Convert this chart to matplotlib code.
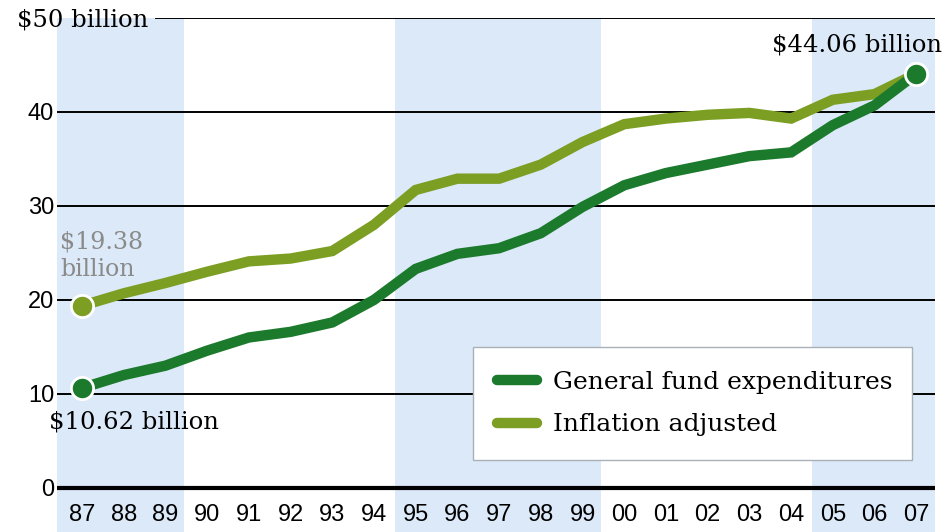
import numpy as np
from matplotlib import pyplot as plt

# fiscal years 1987-2007, values in $ billion
years = ["87", "88", "89", "90", "91", "92", "93", "94", "95", "96", "97",
         "98", "99", "00", "01", "02", "03", "04", "05", "06", "07"]
general_fund = [10.62, 12.0, 13.0, 14.6, 16.0, 16.6, 17.6, 20.0, 23.3, 24.9, 25.5,
                27.1, 29.9, 32.2, 33.5, 34.4, 35.3, 35.7, 38.6, 40.7, 44.06]
inflation_adj = [19.38, 20.7, 21.8, 23.0, 24.1, 24.4, 25.2, 28.0, 31.7, 32.9, 32.9,
                 34.4, 36.8, 38.7, 39.3, 39.7, 39.9, 39.3, 41.3, 41.9, 44.06]
y_ticks = [0, 10, 20, 30, 40]
# shaded year groups (first index, last index)
bands = [(0, 2), (8, 12), (18, 20)]

dark = "#1b7a2c"
light = "#7b9e23"
band_col = "#dce9f8"
serif = "DejaVu Serif"
sans = "Liberation Sans"

fig = plt.figure(figsize=(9.47, 5.32), dpi=100)
ax = fig.add_axes([57 / 947, 0, 878 / 947, 514 / 532])

x = np.arange(len(years))
ax.set_xlim(-0.6, 20.45)
ax.set_ylim(-4.7, 50)

for a, b in bands:
    left = -0.6 if a == 0 else a - 0.5
    ax.axvspan(left, b + 0.45, color=band_col, lw=0, zorder=0)

for v in y_ticks[1:]:
    ax.axhline(v, color="black", lw=1.4, zorder=1)
ax.hlines(50, 1.75, 20.45, color="black", lw=1.4, zorder=1)
ax.axhline(0, color="black", lw=3, zorder=1)

ax.plot(x, inflation_adj, color=light, lw=7.5, solid_joinstyle="miter", zorder=3,
        label="Inflation adjusted")
ax.plot(x, general_fund, color=dark, lw=7.5, solid_joinstyle="miter", zorder=4,
        label="General fund expenditures")
ax.plot(x[0], inflation_adj[0], "o", ms=16, mfc=light, mec="white", mew=2, zorder=5)
ax.plot(x[[0, -1]], [general_fund[0], general_fund[-1]], "o", ms=16, mfc=dark,
        mec="white", mew=2, zorder=6)

for s in ax.spines.values():
    s.set_visible(False)
ax.set_xticks([])
ax.set_yticks(y_ticks)
ax.set_yticklabels([str(v) for v in y_ticks], fontsize=17, family=sans)
ax.tick_params(axis="y", length=0, pad=2)

for i, lab in enumerate(years):
    ax.text(i, -2.9, lab, ha="center", va="center", fontsize=17, family=sans)

fig.text(17 / 947, 1 - 20 / 532, "$50 billion", ha="left", va="center",
         fontsize=17.5, family=serif)

ax.text(-0.53, 24.7, "$19.38\nbillion", ha="left", va="center", fontsize=17,
        family=serif, color="#8a8a8a", linespacing=1.2)
ax.text(-0.78, 7.0, "$10.62 billion", ha="left", va="center", fontsize=17.5,
        family=serif, clip_on=False)
ax.text(20.62, 47.1, "$44.06 billion", ha="right", va="center", fontsize=17.5,
        family=serif, clip_on=False)

h, l = ax.get_legend_handles_labels()
leg = ax.legend(h[::-1], l[::-1], loc="center", bbox_to_anchor=(0.474, 0.134, 0.5, 0.232),
                mode="expand", borderaxespad=0, fancybox=False, framealpha=1,
                edgecolor="#a9b0b8", prop={"family": serif, "size": 18},
                handlelength=1.6, borderpad=0.95, labelspacing=0.8, handletextpad=0.65)
leg.get_frame().set_linewidth(1)
for ln in leg.get_lines():
    ln.set_solid_capstyle("round")
    ln.set_linewidth(7.5)

fig.savefig("out.png", dpi=100)
